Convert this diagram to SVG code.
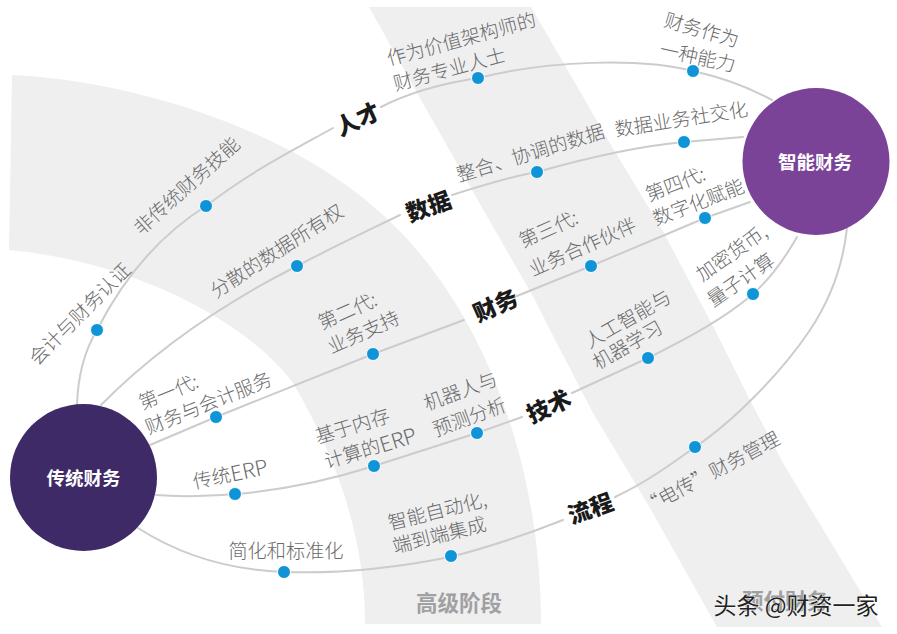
<svg xmlns="http://www.w3.org/2000/svg" width="897" height="634" viewBox="0 0 897 634">
<style>
text{font-family:"Noto Sans CJK SC","Liberation Sans",sans-serif;text-anchor:middle;dominant-baseline:central}
.l{font-size:19.200px;font-weight:300;fill:#6a6a6a}
.c{font-size:23px;font-weight:900;fill:#1a1a1a}
.n{font-size:18.500px;font-weight:700;fill:#fff}
.p{font-size:21.500px;font-weight:700;fill:#a0a0a2}
.e{font-size:21px}
.w{fill:none;stroke:#ccc;stroke-width:2;stroke-linecap:round}
.d{fill:#0f94d8;stroke:#fff;stroke-width:1}
.b{fill:#efeff0}
</style>
<rect width="897" height="634" fill="#fff"/>
<g id="bands">
<path class="b" d="M12 75C110 80 205 108 283 147C345 178 400 222 440 280C490 350 541 470 541 624H365C365 560 350 480 293 383C250 325 140 262 9 250Z"/>
<path class="b" d="M369 7H531L563 62L608 140L664 233L715 330L750 400L783 463L882 627H717L647 503L593 413L550 330L535 300L476 197L420 98Z"/>
</g>
<g id="connectors">
<path class="w" d="M77 405C78 370 88 345 97 330C125 275 160 235 206 206C250 172 290 152 333 128"/>
<path class="w" d="M381 107C410 92 445 83 478 78C550 60 640 58 693 71C720 77 750 88 772 100"/>
<path class="w" d="M101 405C160 345 230 300 297 266C335 246 365 232 400 215"/>
<path class="w" d="M452 195C480 186 510 177 537 172C590 157 640 146 684 142L743 137"/>
<path class="w" d="M150 445L216 417L373 354L464 320"/>
<path class="w" d="M512 298L591 266L705 218L750 202"/>
<path class="w" d="M156 495C180 497 210 496 235 494C285 490 330 480 374 466L477 433L522 417"/>
<path class="w" d="M572 393L648 358C690 337 725 318 753 294C772 277 785 258 797 237"/>
<path class="w" d="M138 528C180 555 230 570 284 572C340 574 395 568 450 557C490 547 525 535 563 520"/>
<path class="w" d="M615 497C645 483 670 465 695 447C730 424 780 375 810 330C830 300 843 265 847 228"/>
</g>
<g id="dots">
<circle class="d" cx="97" cy="330" r="6.500"/><circle class="d" cx="206" cy="206" r="6.500"/><circle class="d" cx="478" cy="78" r="6.500"/><circle class="d" cx="693" cy="71" r="6.500"/>
<circle class="d" cx="297" cy="266" r="6.500"/><circle class="d" cx="537" cy="172" r="6.500"/><circle class="d" cx="684" cy="142" r="6.500"/>
<circle class="d" cx="216" cy="417" r="6.500"/><circle class="d" cx="373" cy="354" r="6.500"/><circle class="d" cx="591" cy="266" r="6.500"/><circle class="d" cx="705" cy="218" r="6.500"/>
<circle class="d" cx="235" cy="494" r="6.500"/><circle class="d" cx="374" cy="466" r="6.500"/><circle class="d" cx="477" cy="433" r="6.500"/><circle class="d" cx="648" cy="358" r="6.500"/><circle class="d" cx="753" cy="294" r="6.500"/>
<circle class="d" cx="284" cy="572" r="6.500"/><circle class="d" cx="451" cy="556" r="6.500"/><circle class="d" cx="695" cy="447" r="6.500"/>
</g>
<g id="node-traditional"><circle cx="83.500" cy="477.500" r="73.500" fill="#3f2a68"/><text class="n" x="83.500" y="477">传统财务</text></g>
<g id="node-smart"><circle cx="816" cy="161.500" r="73.500" fill="#7b4397"/><text class="n" x="815" y="161">智能财务</text></g>
<g id="labels">
<text class="l" transform="translate(79 313) rotate(-45)">会计与财务认证</text>
<text class="l" transform="translate(186 185) rotate(-42)">非传统财务技能</text>
<text class="l" transform="translate(276 250) rotate(-33)">分散的数据所有权</text>
<text class="l" transform="translate(461 38) rotate(-15)">作为价值架构师的</text>
<text class="l" transform="translate(449 68) rotate(-15)">财务专业人士</text>
<text class="l" transform="translate(702 29) rotate(16)">财务作为</text>
<text class="l" transform="translate(698 56) rotate(12)">一种能力</text>
<text class="l" transform="translate(681 118) rotate(-9)">数据业务社交化</text>
<text class="l" transform="translate(530 152) rotate(-17)">整合、协调的数据</text>
<text class="l" transform="translate(548 228) rotate(-24)">第三代:</text>
<text class="l" transform="translate(582 246) rotate(-24)">业务合作伙伴</text>
<text class="l" transform="translate(675 183) rotate(-21)">第四代:</text>
<text class="l" transform="translate(698 201) rotate(-21)">数字化赋能</text>
<text class="l" transform="translate(731 252) rotate(-35)">加密货币,</text>
<text class="l" transform="translate(740 279) rotate(-35)">量子计算</text>
<text class="l" transform="translate(627 318) rotate(-30)">人工智能与</text>
<text class="l" transform="translate(627 344) rotate(-30)">机器学习</text>
<text class="l" transform="translate(460 390) rotate(-20)">机器人与</text>
<text class="l" transform="translate(469 416) rotate(-20)">预测分析</text>
<text class="l" transform="translate(352 425) rotate(-17)">基于内存</text>
<text class="l" transform="translate(370 447) rotate(-17)">计算的<tspan class="e">ERP</tspan></text>
<text class="l" transform="translate(230 473) rotate(-12)">传统<tspan class="e">ERP</tspan></text>
<text class="l" x="286" y="550">简化和标准化</text>
<text class="l" transform="translate(168 391) rotate(-22)">第一代:</text>
<text class="l" transform="translate(208 402) rotate(-22)">财务与会计服务</text>
<text class="l" transform="translate(347 310) rotate(-24)">第二代:</text>
<text class="l" transform="translate(363 331) rotate(-24)">业务支持</text>
<text class="l" transform="translate(437 510) rotate(-14)">智能自动化,</text>
<text class="l" transform="translate(439 534) rotate(-14)">端到端集成</text>
<text class="l" transform="translate(710 472) rotate(-28)">“电传”财务管理</text>
<text class="c" transform="translate(357 118) rotate(-25)">人才</text>
<text class="c" transform="translate(428 205) rotate(-20)">数据</text>
<text class="c" transform="translate(495 304) rotate(-24)">财务</text>
<text class="c" transform="translate(548 405) rotate(-25)">技术</text>
<text class="c" transform="translate(590 507) rotate(-20)">流程</text>
<text class="p" x="459" y="601">高级阶段</text>
<text class="p" x="785" y="599">预付财务</text>
</g>
<text x="796" y="604" style="font-size:23px;fill:#222;stroke:#fff;stroke-width:.7;paint-order:stroke">头条 @财资一家</text>
</svg>
